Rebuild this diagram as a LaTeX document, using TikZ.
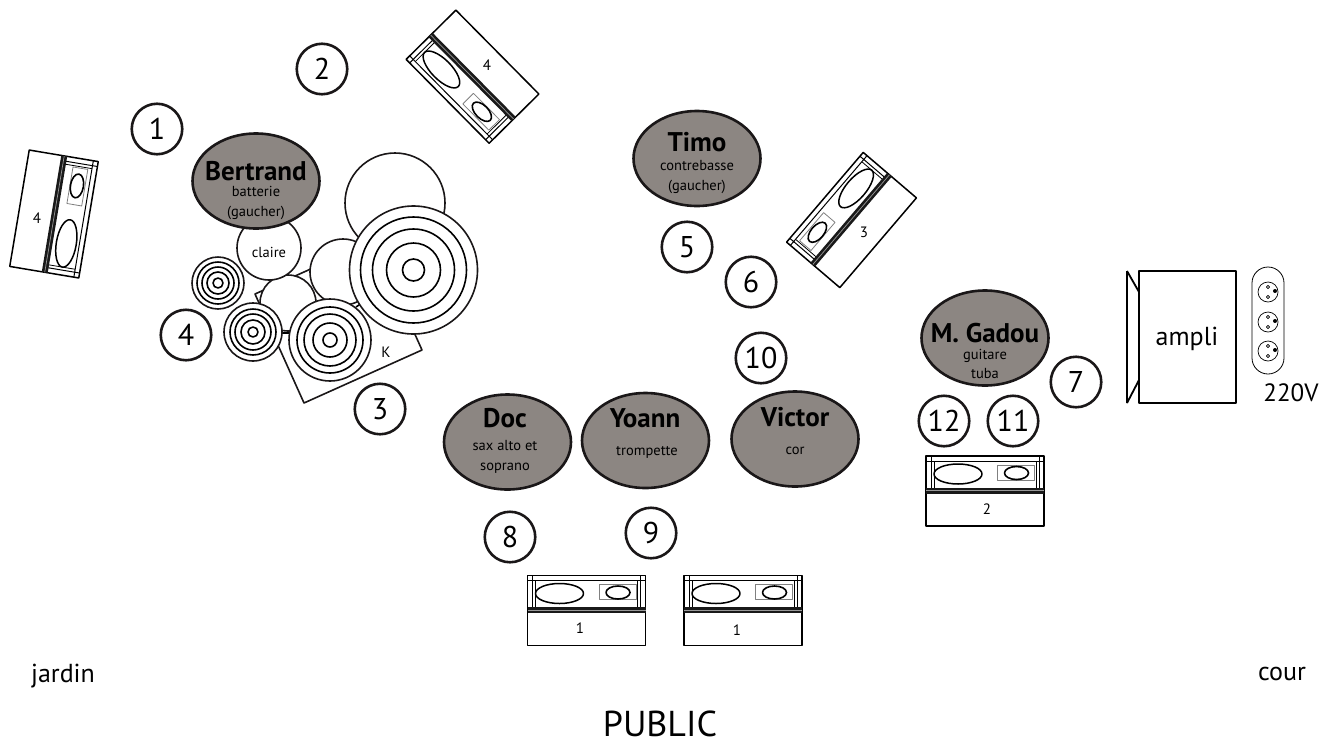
\documentclass[tikz,border=0pt]{standalone}
\usepackage{fontspec}
\setmainfont{PT Sans}
\usetikzlibrary{shapes.geometric}
\definecolor{musiciengray}{HTML}{8C8682}
\definecolor{inkblack}{HTML}{1A1718}
\tikzset{
  numcircle/.style = {draw=inkblack, line width=2.6pt, circle, fill=white, minimum size=50.5pt, inner sep=0pt, font=\fontsize{30}{32}\selectfont},
  musician/.style = {draw=inkblack, line width=2.6pt, ellipse, fill=musiciengray, minimum width=127pt, minimum height=95pt, inner sep=0pt},
  namelabel/.style = {inner sep=0pt, font=\fontsize{27}{29}\selectfont\bfseries},
  rolelabel/.style = {inner sep=0pt, align=center, font=\fontsize{14.5}{19.5}\selectfont},
  smalllabel/.style = {inner sep=0pt, font=\fontsize{15}{17}\selectfont},
  drum/.style = {draw=inkblack, line width=1.6pt, fill=white},
  ampcab/.pic = {
    \draw[line width=1.5pt, fill=white] (-59,-35) rectangle (59,35);
    \draw[line width=1pt] (-59,-30) -- (59,-30) (-54,-35) -- (-54,-3) (54,-35) -- (54,-3);
    \draw[line width=0.8pt] (-51,-30) -- (-51,-3) (51,-30) -- (51,-3);
    \fill[black!90] (-59,-3.5) rectangle (59,2.5);
    \draw[gray!80, line width=0.7pt] (-59,-0.5) -- (59,-0.5);
    \draw[line width=1.5pt] (-27,-17) ellipse [x radius=24, y radius=10];
    \draw[gray, line width=0.8pt] (12.5,-26) rectangle (49.5,-11);
    \draw[line width=1.6pt] (31.5,-18) ellipse [x radius=12, y radius=6.5];
  },
  prise/.pic = {
    \draw[line width=0.7pt] (0,0) circle [radius=10];
    \draw[line width=0.7pt] (0,-5) circle [radius=1.7] (0,5) circle [radius=1.7];
    \fill (7,-1) circle [radius=2];
  }
}
\begin{document}
\begin{tikzpicture}[x=1pt, y=-1pt, line join=round]
\useasboundingbox (0,0) rectangle (1321,742);
\fill[white] (0,0) rectangle (1321,742);

% retours
\pic[rotate=80.5, yscale=-1] at (54,214) {ampcab};
\pic[rotate=-45.3, yscale=-1] at (472.5,76.7) {ampcab};
\pic[rotate=229.5, yscale=-1] at (851.5,220) {ampcab};
\pic at (985,491) {ampcab};
\pic at (586.5,610.5) {ampcab};
\pic at (743,610.5) {ampcab};
\node[smalllabel] (retourA) at (37,218) {4};
\node[smalllabel] (retourB) at (487,65) {4};
\node[smalllabel] (retourC) at (864,232) {3};
\node[smalllabel] (retourD) at (987,509) {2};
\node[smalllabel] (retourE) at (580,628) {1};
\node[smalllabel] (retourF) at (737,630) {1};

% batterie
\draw[drum] (255,294) -- (304,403) -- (422,350) -- (373,241) -- cycle;
\node[smalllabel] (kick) at (386,352) {K};
\draw[drum] (395,203) circle [radius=50];
\draw[drum] (343,272) circle [radius=33];
\draw[drum] (288,303) circle [radius=28];
\draw[drum] (269,248) circle [radius=32];
\node[rolelabel] (claire) at (269,252) {claire};
\draw[drum] (218,283) circle [radius=26];
\draw[line width=1.6pt] (218,283) circle [radius=21] circle [radius=16] circle [radius=11] circle [radius=5];
\draw[line width=1.6pt] (282,333) -- (290,333) (356,307) -- (362,303);
\draw[drum] (253,332) circle [radius=29];
\draw[line width=1.6pt] (253,332) circle [radius=23] circle [radius=18] circle [radius=12] circle [radius=5];
\draw[drum] (330,340) circle [radius=41];
\draw[line width=1.6pt] (330,340) circle [radius=33] circle [radius=26] circle [radius=17] circle [radius=7];
\draw[drum] (413.5,270) circle [radius=64];
\draw[line width=1.6pt] (413.5,270) circle [radius=53] circle [radius=41] circle [radius=27] circle [radius=11];

% musiciens
\node[musician] (bertrand) at (256,181) {};
\node[namelabel] (bertrandname) at (256,171) {Bertrand};
\node[rolelabel] (bertrandrole) at (256,203) {batterie\\(gaucher)};
\node[musician] (timo) at (697,158.5) {};
\node[namelabel] (timoname) at (697,142) {Timo};
\node[rolelabel] (timorole) at (697,177) {contrebasse\\(gaucher)};
\node[musician] (gadou) at (985,338) {};
\node[namelabel] (gadouname) at (985,333) {M. Gadou};
\node[rolelabel] (gadourole) at (985,364) {guitare\\tuba};
\node[musician] (doc) at (507.5,442) {};
\node[namelabel] (docname) at (505,418) {Doc};
\node[rolelabel] (docrole) at (505,457) {sax alto et\\soprano};
\node[musician] (yoann) at (645.5,440.5) {};
\node[namelabel] (yoannname) at (645,418) {Yoann};
\node[rolelabel] (yoannrole) at (647,452) {trompette};
\node[musician] (victor) at (795,439) {};
\node[namelabel] (victorname) at (795,417) {Victor};
\node[rolelabel] (victorrole) at (795,451) {cor};

% numeros
\node[numcircle] (num1) at (157,129) {1};
\node[numcircle] (num2) at (322,69) {2};
\node[numcircle] (num3) at (380,409) {3};
\node[numcircle] (num4) at (186,335) {4};
\node[numcircle] (num5) at (687,247) {5};
\node[numcircle] (num6) at (751,282) {6};
\node[numcircle] (num7) at (1076,382) {7};
\node[numcircle] (num8) at (510,537) {8};
\node[numcircle] (num9) at (651,533) {9};
\node[numcircle] (num10) at (761,358) {10};
\node[numcircle] (num11) at (1013,421) {11};
\node[numcircle] (num12) at (944,421) {12};

% ampli et prises
\draw[line width=1.8pt] (1127,271) -- (1139,292) (1127,403) -- (1139,380) (1127,271) -- (1127,403);
\draw[line width=1.8pt] (1139,271) rectangle (1236,403);
\node[inner sep=0pt, font=\fontsize{26}{28}\selectfont] (ampli) at (1187,339) {ampli};
\draw[line width=0.8pt, rounded corners=16pt] (1252,267) rectangle (1284,374);
\pic at (1268,292) {prise};
\pic at (1268,322) {prise};
\pic at (1268,351) {prise};
\node[inner sep=0pt, font=\fontsize{25}{27}\selectfont] (secteur) at (1291,393) {220V};

% scene
\node[inner sep=0pt, font=\fontsize{26}{28}\selectfont] (jardin) at (63,676) {jardin};
\node[inner sep=0pt, font=\fontsize{26}{28}\selectfont] (cour) at (1282,674) {cour};
\node[inner sep=0pt, font=\fontsize{36}{38}\selectfont] (public) at (660,724) {PUBLIC};
\end{tikzpicture}
\end{document}
